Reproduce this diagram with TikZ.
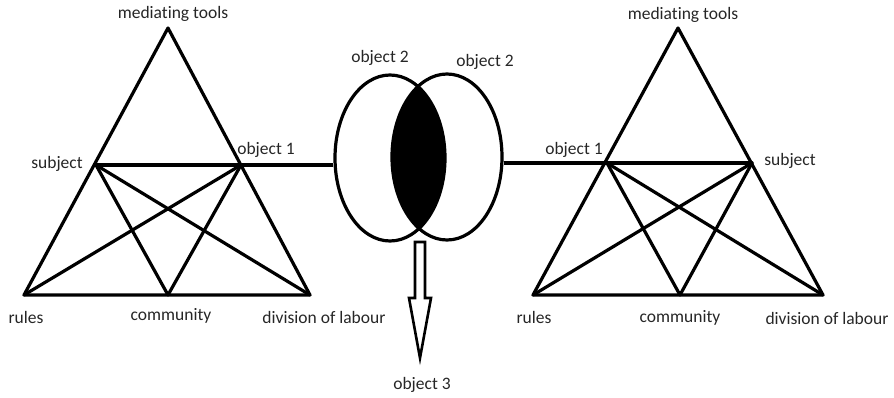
\documentclass[tikz,border=0pt]{standalone}
\usepackage{fontspec}
\setmainfont{Carlito}[Ligatures={NoCommon}]
\usetikzlibrary{shapes.geometric}
\begin{document}
\begin{tikzpicture}[x=1pt,y=-1pt,
  edge/.style={line width=3.2pt,line cap=round,line join=round},
  lbl/.style={font=\fontsize{17.5}{20}\selectfont,text=black!85,inner sep=0pt},
  oval/.style={ellipse,draw,line width=3.2pt,inner sep=0pt,minimum width=110pt,minimum height=166pt}]
\useasboundingbox (0,0) rectangle (894,397);
% left triangle vertices (ml = left middle, mr = right middle)
\coordinate (Lt) at (168,28);
\coordinate (Lml) at (96,165);
\coordinate (Lmr) at (241,165);
\coordinate (Lr) at (24,295);
\coordinate (Lc) at (168,295);
\coordinate (Ld) at (310,295);
% right triangle vertices
\coordinate (Rt) at (678,28);
\coordinate (Rml) at (607,163);
\coordinate (Rmr) at (752,163);
\coordinate (Rr) at (533,295);
\coordinate (Rc) at (680,295);
\coordinate (Rd) at (823,295);
% ellipses
\node[oval] (e1) at (390,158) {};
\node[oval] (e2) at (447,157) {};
\begin{scope}
  \clip (390,158) ellipse [x radius=55pt, y radius=83pt];
  \fill (447,157) ellipse [x radius=55pt, y radius=83pt];
\end{scope}
% triangles
\foreach \p in {L,R}{
  \draw[edge] (\p t) -- (\p r) -- (\p d) -- cycle;
  \draw[edge] (\p ml) -- (\p mr);
  \draw[edge] (\p ml) -- (\p c) -- (\p mr);
  \draw[edge] (\p ml) -- (\p d);
  \draw[edge] (\p mr) -- (\p r);
}
\draw[edge,line cap=butt] (Lmr) -- (Lmr -| e1.west);
\draw[edge,line cap=butt] (Rml) -- (Rml -| e2.east);
% hollow arrow
\coordinate (at) at (420,358);
\draw[line width=2.6pt,line join=miter]
  (415,242) -- (425,242) -- (425,298) -- (431,298) -- (at) -- (409,298) -- (415,298) -- cycle;
% labels
\node[lbl] (lmt) at (173,14) {mediating tools};
\node[lbl] (lsu) at (57,164) {subject};
\node[lbl] (lo1) at (266,150) {object 1};
\node[lbl] (lru) at (26,317) {rules};
\node[lbl] (lco) at (171,316) {community};
\node[lbl] (ldl) at (324,317) {division of labour};
\node[lbl] (o2a) at (380,58) {object 2};
\node[lbl] (o2b) at (485,62) {object 2};
\node[lbl] (o3) at (422,385) {object 3};
\node[lbl] (rmt) at (683,15) {mediating tools};
\node[lbl] (ro1) at (574,150) {object 1};
\node[lbl] (rsu) at (790,161) {subject};
\node[lbl] (rru) at (534,317) {rules};
\node[lbl] (rco) at (680,318) {community};
\node[lbl] (rdl) at (827,318) {division of labour};
\end{tikzpicture}
\end{document}
